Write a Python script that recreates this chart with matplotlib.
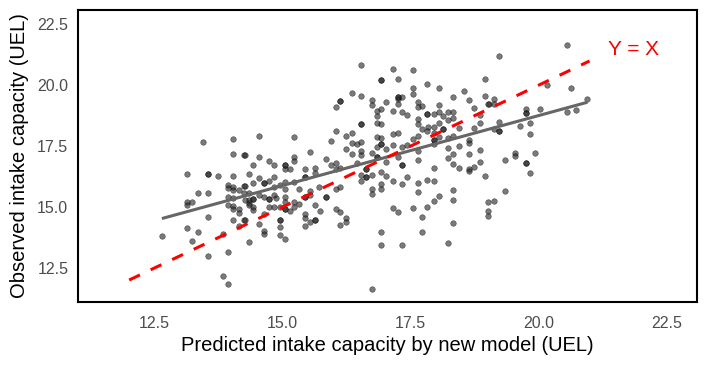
import numpy as np
import matplotlib
matplotlib.use('Agg')
import matplotlib.pyplot as plt

# observed vs predicted intake capacity (UEL)
pred_x = [
    13.44, 14.04, 14.04, 14.24, 13.13, 13.54, 13.73, 14.04, 13.34, 13.54,
    13.93, 13.93, 14.04, 14.04, 14.14, 14.24, 14.24, 13.13, 13.13, 13.22,
    13.93, 14.04, 13.93, 14.04, 14.04, 14.14, 14.14, 14.34, 13.54, 13.13,
    13.34, 12.64, 13.22, 13.54, 13.83, 13.93, 13.93, 13.83, 14.04, 14.14,
    14.24, 14.34, 16.04, 16.13, 16.54, 14.53, 15.23, 16.04, 16.23, 16.35,
    15.94, 16.35, 16.45, 16.54, 16.23, 15.53, 16.54, 16.35, 16.54, 14.26,
    14.53, 15.23, 15.23, 14.73, 15.84, 14.43, 14.84, 15.04, 15.04, 15.14,
    15.43, 15.64, 15.64, 15.94, 16.04, 16.04, 16.13, 16.45, 16.64, 16.54,
    16.64, 16.54, 14.34, 14.53, 14.84, 15.43, 15.23, 15.04, 14.63, 14.73,
    14.43, 14.94, 14.84, 14.26, 15.04, 15.33, 15.53, 15.72, 16.04, 16.13,
    14.34, 14.43, 14.53, 14.63, 14.73, 14.84, 14.88, 15.04, 15.43, 15.53,
    15.84, 14.34, 14.43, 14.73, 14.84, 14.94, 15.04, 15.23, 15.23, 15.33,
    15.64, 16.04, 14.26, 14.34, 14.43, 15.04, 15.14, 15.74, 16.13, 16.23,
    16.23, 16.13, 15.43, 15.43, 15.53, 15.64, 15.43, 14.94, 14.94, 14.94,
    15.04, 14.63, 14.63, 14.53, 14.26, 14.63, 16.54, 16.35, 16.54, 17.15,
    17.54, 16.93, 17.25, 17.83, 18.95, 17.54, 17.54, 18.05, 18.54, 17.25,
    17.25, 17.34, 16.74, 16.74, 17.03, 17.25, 17.64, 17.64, 17.73, 18.05,
    18.34, 18.65, 18.95, 18.75, 19.02, 16.84, 16.93, 17.15, 17.34, 17.44,
    17.83, 17.95, 18.05, 18.24, 18.34, 18.14, 18.34, 18.24, 18.85, 16.84,
    16.84, 16.93, 17.64, 17.64, 18.85, 17.85, 17.95, 18.05, 18.44, 18.75,
    17.73, 17.83, 17.95, 18.14, 17.15, 17.25, 16.84, 16.93, 17.64, 17.54,
    18.05, 18.24, 18.34, 17.95, 18.65, 18.65, 16.84, 16.93, 17.03, 17.15,
    17.34, 17.44, 17.64, 16.74, 16.84, 17.03, 17.25, 17.34, 17.64, 17.95,
    18.24, 18.44, 18.24, 18.34, 18.34, 18.44, 18.65, 18.85, 18.85, 18.75,
    18.65, 18.65, 18.95, 16.74, 16.93, 17.03, 17.15, 17.44, 17.34, 17.64,
    17.64, 17.83, 17.95, 17.95, 16.93, 16.93, 16.74, 16.74, 18.05, 17.95,
    18.34, 18.34, 17.83, 17.54, 17.15, 17.25, 17.73, 19.02, 19.02, 19.02,
    18.34, 16.93, 17.73, 16.93, 17.34, 18.24, 16.74, 20.55, 19.24, 20.16,
    20.64, 19.14, 19.04, 19.14, 20.96, 19.75, 19.75, 20.04, 20.55, 20.74,
    19.24, 19.65, 19.84, 19.24, 19.14, 19.84, 19.55, 19.55, 19.94, 19.34,
    19.75, 19.84, 19.34, 19.14,
    # overlapping observations (darker dots)
    13.54, 15.04, 16.64, 16.64, 14.63, 14.43, 14.73, 15.43, 15.84, 15.43,
    15.04, 15.64, 14.94, 16.54, 16.93, 17.25, 17.83, 18.14, 17.95, 16.93,
    16.84, 17.34, 19.24, 19.75, 19.75, 16.13,
]
obs_y = [
    17.69, 17.81, 17.19, 17.15, 16.37, 16.37, 16.29, 16.29, 15.59, 15.59,
    15.92, 15.79, 15.83, 15.71, 15.71, 15.87, 15.59, 15.22, 15.09, 15.22,
    15.42, 15.38, 15.09, 15.05, 14.93, 14.93, 14.76, 15.30, 14.60, 14.15,
    13.98, 13.82, 13.61, 12.99, 12.17, 11.84, 13.16, 13.90, 14.48, 14.23,
    14.48, 13.57, 19.13, 19.37, 18.43, 17.93, 17.89, 18.14, 17.93, 18.06,
    17.73, 17.64, 17.60, 17.69, 17.40, 17.27, 17.31, 17.19, 17.15, 17.15,
    17.07, 17.07, 16.90, 16.90, 16.99, 16.74, 16.74, 16.74, 16.57, 16.57,
    16.57, 16.62, 16.41, 16.74, 16.82, 16.57, 16.62, 16.82, 16.57, 16.33,
    16.25, 16.08, 16.37, 16.20, 16.25, 16.25, 16.04, 16.04, 16.00, 16.08,
    16.00, 15.92, 15.83, 15.87, 15.75, 15.75, 15.67, 15.83, 15.75, 15.83,
    15.59, 15.34, 15.50, 15.42, 15.34, 15.50, 15.38, 15.42, 15.42, 15.50,
    15.42, 15.18, 15.01, 15.01, 15.01, 15.01, 15.22, 15.22, 15.01, 15.13,
    15.09, 14.93, 15.30, 15.09, 14.89, 14.93, 14.85, 14.85, 14.80, 14.56,
    14.39, 14.27, 14.72, 14.56, 14.39, 14.48, 14.23, 14.48, 14.19, 13.86,
    13.69, 14.02, 13.90, 14.31, 14.48, 14.72, 20.85, 19.70, 19.58, 20.69,
    20.61, 20.20, 20.24, 20.07, 20.28, 19.91, 19.66, 19.91, 19.78, 19.54,
    19.45, 19.54, 19.41, 19.21, 19.33, 19.25, 19.33, 19.13, 19.17, 19.21,
    19.54, 19.41, 19.58, 19.08, 19.25, 18.96, 19.04, 18.96, 18.92, 18.80,
    18.84, 18.84, 18.92, 18.92, 18.92, 18.76, 18.67, 18.59, 18.80, 18.76,
    18.47, 18.43, 18.63, 18.43, 18.47, 18.30, 18.30, 18.47, 18.26, 18.26,
    18.22, 18.14, 18.06, 18.22, 18.01, 18.06, 17.89, 17.85, 17.93, 17.81,
    17.89, 17.85, 17.93, 17.77, 17.77, 17.64, 17.48, 17.60, 17.40, 17.56,
    17.48, 17.56, 17.31, 17.23, 17.07, 16.86, 17.07, 16.74, 16.94, 17.60,
    17.44, 17.52, 17.03, 17.19, 16.78, 16.62, 17.19, 17.36, 16.86, 16.66,
    16.57, 16.49, 16.29, 16.33, 16.45, 16.29, 16.08, 16.25, 15.96, 16.00,
    15.63, 16.12, 16.08, 16.62, 15.96, 15.75, 15.75, 15.55, 15.46, 15.26,
    15.71, 15.30, 15.01, 14.97, 14.97, 14.80, 14.60, 15.22, 14.85, 14.64,
    14.35, 13.98, 13.98, 13.45, 13.45, 13.53, 11.64, 21.64, 21.22, 20.03,
    19.91, 19.45, 19.25, 19.25, 19.45, 19.04, 18.88, 19.04, 18.92, 19.00,
    18.51, 18.34, 18.47, 18.14, 18.22, 18.01, 17.23, 17.11, 17.23, 16.94,
    16.82, 16.41, 15.67, 15.26,
    16.37, 16.74, 16.57, 16.25, 16.00, 15.34, 15.34, 15.42, 15.42, 16.25,
    14.93, 14.48, 14.48, 18.43, 20.20, 19.54, 18.84, 18.22, 17.77, 17.60,
    17.07, 16.74, 18.14, 16.82, 18.88, 19.37,
]

# reference line y = x
ref_x = [12.0, 21.0]

x = np.array(pred_x)
y = np.array(obs_y)
slope, intercept = np.polyfit(x, y, 1)
fit_x = np.array([x.min(), x.max()])
fit_y = intercept + slope * fit_x

plt.rcParams['font.family'] = ['Liberation Sans', 'DejaVu Sans']

fig = plt.figure(figsize=(7.09, 3.66), dpi=100)
ax = fig.add_axes([0.110, 0.175, 0.873, 0.798])

ax.scatter(x, y, s=16, facecolor='#222222', edgecolor='black', linewidths=0.4,
           alpha=0.6, zorder=2)
ax.plot(fit_x, fit_y, color='#666666', lw=2.2, solid_capstyle='butt', zorder=3)
ax.plot(ref_x, ref_x, color='red', lw=2.2, dashes=(3.9, 3.9), zorder=4)
ax.text(21.85, 21.47, 'Y = X', color='red', fontsize=15, ha='center', va='center')

ax.set_xlim(11.0, 23.1)
ax.set_ylim(11.1, 23.1)
ax.set_xticks([12.5, 15.0, 17.5, 20.0, 22.5])
ax.set_yticks([12.5, 15.0, 17.5, 20.0, 22.5])
ax.set_xticklabels(['12.5', '15.0', '17.5', '20.0', '22.5'])
ax.set_yticklabels(['12.5', '15.0', '17.5', '20.0', '22.5'])
ax.tick_params(length=0, labelsize=11.5, labelcolor='#4D4D4D')
ax.tick_params(axis='x', pad=10)
ax.tick_params(axis='y', pad=7)
for s in ax.spines.values():
    s.set_linewidth(1.5)
    s.set_color('black')

ax.set_xlabel('Predicted intake capacity by new model (UEL)', fontsize=14.5, labelpad=4)
ax.set_ylabel('Observed intake capacity (UEL)', fontsize=14.5, labelpad=6)

fig.savefig('out.png', dpi=100)
